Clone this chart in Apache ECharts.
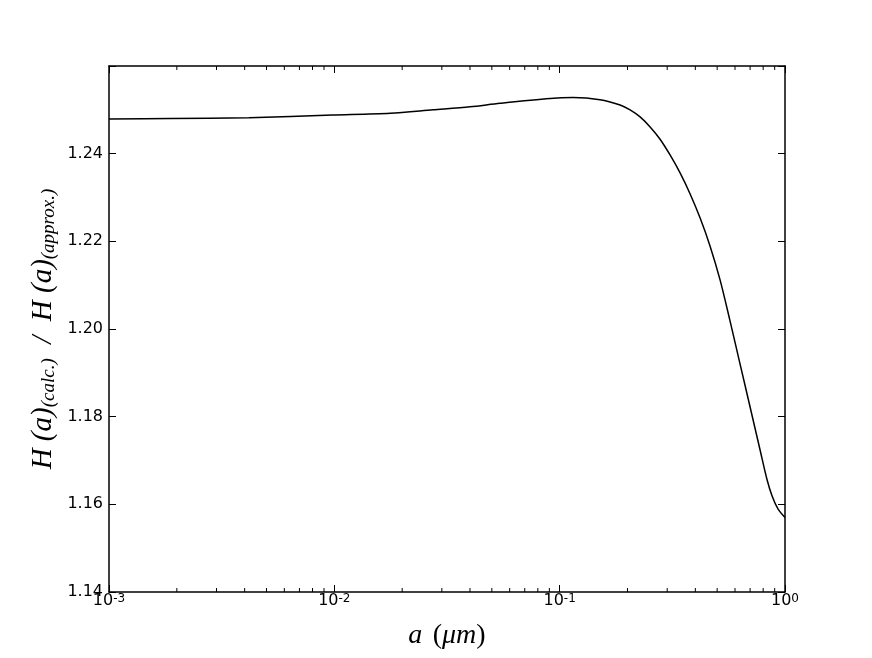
<!DOCTYPE html>
<html>
<head>
<meta charset="utf-8">
<script src="https://cdn.jsdelivr.net/npm/echarts@6/dist/echarts.min.js"></script>
<style>
  html, body { margin: 0; padding: 0; background: #fff; }
  #chart { width: 872px; height: 658px; }
</style>
</head>
<body>
<div id="chart"></div>
<script>
// grain radius a (um)
const aValues = [0.001, 0.00187, 0.00418, 0.0098, 0.0177, 0.0274, 0.040, 0.0544, 0.0907, 0.1147,
  0.151, 0.1854, 0.2053, 0.2275, 0.252, 0.279, 0.309, 0.3423, 0.3793, 0.4201,
  0.4651, 0.515, 0.5705, 0.6319, 0.6999, 0.7752, 0.8326, 0.8764, 0.932, 1.0];
// H(a)calc / H(a)approx
const ratioValues = [1.2479, 1.2480, 1.2482, 1.2488, 1.2492, 1.2500, 1.2507, 1.2515, 1.2526, 1.2528,
  1.2523, 1.2511, 1.2500, 1.2484, 1.2461, 1.2433, 1.2397, 1.2356, 1.2308, 1.2253,
  1.2189, 1.2112, 1.2018, 1.1920, 1.1822, 1.1724, 1.1656, 1.1619, 1.1589, 1.1570];
const decades = [0.001, 0.01, 0.1];
const minorSteps = [2, 3, 4, 5, 6, 7, 8, 9];
const yMin = 1.14, yMax = 1.26, yStep = 0.02;

const minorTicks = [];
decades.forEach(d => minorSteps.forEach(k => minorTicks.push(+(d * k).toPrecision(3))));

const chart = echarts.init(document.getElementById('chart'));

const exp = {'0.001': '-3', '0.01': '-2', '0.1': '-1', '1': '0'};
const tickFont = {fontFamily: 'DejaVu Sans', fontSize: 16, color: '#000'};
const lineStyle = {color: '#000', width: 1.5};

const xBase = {
  type: 'log', logBase: 10, min: 0.001, max: 1,
  axisLine: {show: true, lineStyle: lineStyle},
  axisTick: {show: true, inside: true, length: 7, lineStyle: {color: '#000', width: 1}},
  splitLine: {show: false}
};
const yBase = {
  type: 'value', min: yMin, max: yMax, interval: yStep,
  axisLine: {show: true, lineStyle: lineStyle},
  axisTick: {show: true, inside: true, length: 7, lineStyle: {color: '#000', width: 1}},
  splitLine: {show: false}
};

chart.setOption({
  animation: false,
  backgroundColor: '#fff',
  grid: {left: 109, right: 87, top: 66, bottom: 66},
  xAxis: [
    Object.assign({}, xBase, {
      position: 'bottom',
      name: '{i|a} {n| (}{i|μm}{n|)}',
      nameLocation: 'middle',
      nameGap: 30,
      nameMoveOverlap: false,
      nameTextStyle: {
        rich: {
          i: {fontFamily: 'Liberation Serif', fontStyle: 'italic', fontSize: 28, color: '#000'},
          n: {fontFamily: 'Liberation Serif', fontSize: 28, color: '#000'}
        }
      },
      axisLabel: {
        margin: 1,
        formatter: v => '{b|10}{s|' + exp[String(+v.toPrecision(3))] + '}',
        rich: {
          b: Object.assign({}, tickFont, {lineHeight: 16, padding: [6, 0, 0, 0], verticalAlign: 'bottom'}),
          s: {fontFamily: 'DejaVu Sans', fontSize: 12, lineHeight: 12, color: '#000', verticalAlign: 'top'}
        }
      }
    }),
    Object.assign({}, xBase, {position: 'top', axisLabel: {show: false}})
  ],
  yAxis: [
    Object.assign({}, yBase, {
      position: 'left',
      axisLabel: Object.assign({}, tickFont, {
        margin: 6,
        formatter: v => (Math.abs(v - yMax) < 1e-9 ? '' : v.toFixed(2))
      }),
      name: '{m|H (a)}{s|(calc.)}{m|  /  H (a)}{s|(approx.)}',
      nameLocation: 'middle',
      nameRotate: 90,
      nameGap: 51,
      nameMoveOverlap: false,
      nameTextStyle: {
        rich: {
          m: {fontFamily: 'Liberation Serif', fontStyle: 'italic', fontSize: 29, lineHeight: 29,
              padding: [0, 0, 9, 0], verticalAlign: 'top', color: '#000'},
          s: {fontFamily: 'Liberation Serif', fontStyle: 'italic', fontSize: 19, lineHeight: 19,
              verticalAlign: 'bottom', color: '#000'}
        }
      }
    }),
    Object.assign({}, yBase, {position: 'right', axisLabel: {show: false}})
  ],
  series: [
    {
      type: 'line',
      data: aValues.map((a, i) => [a, ratioValues[i]]),
      showSymbol: false,
      smooth: 0.3,
      lineStyle: {color: '#000', width: 1.5},
      z: 3
    },
    {
      type: 'custom',
      data: minorTicks.map(v => [v, yMin]),
      silent: true,
      clip: false,
      renderItem: function (params, api) {
        const v = api.value(0);
        const b = api.coord([v, yMin]);
        const t = api.coord([v, yMax]);
        const st = {stroke: '#000', lineWidth: 1};
        return {
          type: 'group',
          children: [
            {type: 'line', shape: {x1: b[0], y1: b[1], x2: b[0], y2: b[1] - 4}, style: st},
            {type: 'line', shape: {x1: t[0], y1: t[1], x2: t[0], y2: t[1] + 4}, style: st}
          ]
        };
      }
    }
  ]
});
</script>
</body>
</html>
